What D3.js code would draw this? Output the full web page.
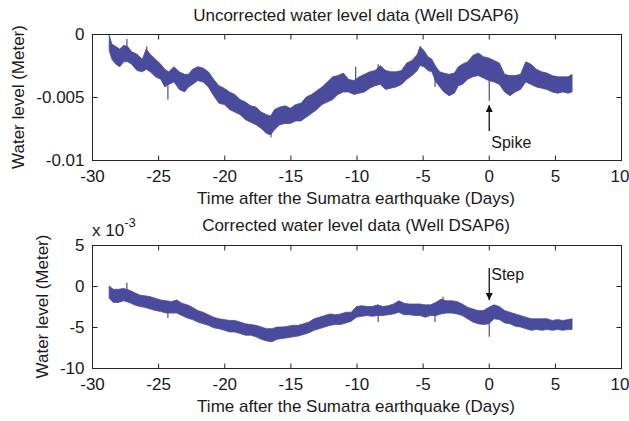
<!DOCTYPE html>
<html>
<head>
<meta charset="utf-8">
<script src="https://cdn.jsdelivr.net/npm/d3@7"></script>
<style>
  body { margin: 0; background: #fff; }
  svg text { font-family: "Liberation Sans", Arial, sans-serif; fill: #1a1a1a; }
</style>
</head>
<body>
<div id="chart"></div>
<script>
// values in units of 1e-3 m
var topDays = [-28.7,-28.5,-28.2,-27.9,-27.6,-27.3,-27.0,-26.6,-26.2,-25.9,-25.6,-25.2,-24.8,-24.5,-24.2,-23.8,-23.4,-23.0,-22.7,-22.4,-22.0,-21.6,-21.2,-20.8,-20.4,-20.0,-19.6,-19.2,-18.8,-18.4,-18.0,-17.6,-17.2,-16.8,-16.5,-16.2,-15.8,-15.4,-15.0,-14.6,-14.2,-13.8,-13.4,-13.0,-12.6,-12.2,-11.8,-11.4,-11.0,-10.6,-10.2,-9.8,-9.4,-9.0,-8.6,-8.2,-7.8,-7.4,-7.0,-6.6,-6.2,-5.8,-5.4,-5.2,-4.9,-4.6,-4.3,-4.0,-3.7,-3.4,-3.0,-2.6,-2.3,-2.0,-1.6,-1.2,-0.8,-0.4,0.0,0.4,0.8,1.2,1.6,2.0,2.4,2.8,3.2,3.6,4.0,4.4,4.8,5.2,5.6,6.0,6.3];
var topHi = [-0.1,-0.8,-1.0,-1.2,-0.9,-1.0,-1.4,-1.6,-2.0,-1.2,-1.6,-2.0,-2.4,-2.8,-3.0,-2.6,-3.0,-3.2,-3.2,-2.8,-2.6,-2.7,-3.0,-3.6,-4.1,-4.3,-4.6,-4.8,-5.2,-5.4,-5.7,-5.8,-6.2,-6.4,-6.5,-6.0,-5.8,-5.7,-5.9,-5.6,-5.5,-5.0,-4.8,-4.5,-4.2,-3.8,-3.4,-3.3,-3.1,-3.6,-3.7,-3.4,-3.2,-3.0,-2.9,-2.5,-2.9,-3.0,-3.0,-2.9,-2.3,-2.1,-1.6,-1.0,-1.3,-1.8,-2.0,-2.6,-3.0,-3.1,-3.2,-3.1,-2.6,-2.4,-2.2,-1.7,-1.5,-1.8,-1.9,-2.1,-2.3,-3.2,-3.3,-3.3,-3.2,-2.2,-2.4,-2.8,-3.0,-3.1,-3.3,-3.4,-3.4,-3.4,-3.2];
var topLo = [-1.3,-2.0,-2.4,-2.6,-2.2,-2.2,-2.4,-2.9,-3.0,-2.8,-3.0,-3.4,-3.6,-4.2,-4.0,-3.8,-4.4,-4.6,-4.2,-4.0,-3.7,-3.8,-4.2,-4.9,-5.5,-5.6,-6.0,-6.2,-6.4,-6.8,-7.0,-7.2,-7.5,-7.9,-8.0,-7.6,-7.2,-7.1,-7.1,-6.9,-6.9,-6.6,-6.3,-6.0,-5.6,-5.4,-5.2,-4.8,-4.6,-4.6,-4.8,-4.7,-4.6,-4.3,-4.1,-4.0,-4.4,-4.3,-4.2,-4.0,-3.6,-3.3,-2.9,-2.5,-2.6,-2.9,-3.0,-3.8,-4.2,-4.6,-4.9,-4.7,-4.1,-4.0,-3.6,-3.4,-3.3,-3.5,-3.7,-3.8,-4.0,-4.6,-4.9,-4.6,-4.4,-3.8,-4.0,-4.2,-4.3,-4.4,-4.6,-4.7,-4.6,-4.7,-4.6];
var topSpikeDays = [-27.4,-25.9,-24.3,-16.5,-10.1,-8.4,-5.2,-4.1,0.0];
var topSpikeVals = [-0.4,-1.0,-5.2,-8.2,-2.6,-2.4,-1.0,-4.2,-5.3];

var botDays = [-28.7,-28.4,-28.0,-27.6,-27.2,-26.8,-26.4,-26.0,-25.6,-25.2,-24.8,-24.4,-24.0,-23.6,-23.2,-22.8,-22.4,-22.0,-21.6,-21.2,-20.8,-20.4,-20.0,-19.6,-19.2,-18.8,-18.4,-18.0,-17.6,-17.2,-16.8,-16.4,-16.0,-15.6,-15.2,-14.8,-14.4,-14.0,-13.6,-13.2,-12.8,-12.4,-12.0,-11.6,-11.2,-10.8,-10.4,-10.0,-9.6,-9.2,-8.8,-8.4,-8.0,-7.6,-7.2,-6.8,-6.4,-6.0,-5.6,-5.2,-4.8,-4.4,-4.0,-3.6,-3.2,-2.8,-2.4,-2.0,-1.6,-1.2,-0.8,-0.4,0.0,0.4,0.8,1.2,1.6,2.0,2.4,2.8,3.2,3.6,4.0,4.4,4.8,5.2,5.6,6.0,6.3];
var botHi = [0.0,-0.4,-0.4,-0.3,-0.5,-0.8,-1.1,-1.2,-1.3,-1.5,-1.7,-1.8,-1.9,-1.7,-2.1,-2.3,-2.6,-3.0,-3.2,-3.5,-3.8,-4.0,-4.1,-4.2,-4.2,-4.4,-4.6,-4.7,-4.8,-5.0,-5.2,-5.2,-5.0,-5.0,-4.9,-4.8,-4.8,-4.6,-4.4,-4.0,-3.8,-3.6,-3.4,-3.5,-3.4,-3.2,-3.2,-2.5,-2.4,-2.5,-2.5,-2.3,-2.5,-2.4,-2.2,-1.8,-2.1,-2.2,-2.2,-2.2,-2.3,-2.3,-2.0,-1.6,-1.8,-1.8,-1.9,-2.2,-2.6,-2.8,-3.0,-3.0,-2.6,-2.3,-2.5,-3.0,-3.2,-3.4,-3.6,-3.8,-4.0,-4.0,-4.0,-4.0,-4.2,-4.1,-4.2,-4.1,-4.0];
var botLo = [-1.5,-2.0,-2.0,-1.8,-2.0,-2.3,-2.5,-2.6,-2.8,-3.0,-3.1,-3.3,-3.3,-3.3,-3.6,-3.9,-4.1,-4.4,-4.6,-4.8,-5.1,-5.2,-5.4,-5.6,-5.6,-5.8,-6.0,-6.0,-6.2,-6.5,-6.7,-6.8,-6.5,-6.4,-6.3,-6.2,-6.1,-5.9,-5.7,-5.4,-5.2,-5.0,-4.8,-4.7,-4.7,-4.5,-4.3,-3.8,-3.7,-3.6,-3.7,-3.6,-3.6,-3.5,-3.4,-3.2,-3.5,-3.5,-3.6,-3.6,-3.8,-3.6,-3.6,-3.4,-3.3,-3.3,-3.4,-3.6,-4.0,-4.4,-4.6,-4.7,-4.6,-4.0,-4.1,-4.5,-4.6,-4.9,-5.0,-5.2,-5.4,-5.3,-5.4,-5.3,-5.4,-5.3,-5.4,-5.3,-5.3];
var botSpikeDays = [-27.4,-24.3,-8.4,-4.1,-3.5,0.0];
var botSpikeVals = [0.4,-3.9,-4.4,-4.4,-1.3,-6.2];

var xTicks = [-30,-25,-20,-15,-10,-5,0,5,10];
var topYTicks = [0,-5,-10];
var botYTicks = [5,0,-5,-10];

var width = 629, height = 421;
var lineColor = "#4b4b9d";
var axisColor = "#222";

// matlab style labels use a plain hyphen
function hyph(f) { return function(d) { return f(d).replace("\u2212", "-"); }; }

var svg = d3.select("#chart").append("svg")
    .attr("width", width)
    .attr("height", height);

svg.append("defs").append("marker")
    .attr("id", "head")
    .attr("viewBox", "0 0 10 10")
    .attr("refX", 10).attr("refY", 5)
    .attr("markerWidth", 7).attr("markerHeight", 7)
    .attr("markerUnits", "userSpaceOnUse")
    .attr("orient", "auto")
  .append("path")
    .attr("d", "M0,0L10,5L0,10z")
    .attr("fill", "#111");

function panel(opt) {
  var x = d3.scaleLinear().domain([-30, 10]).range([92, 621]);
  var y = d3.scaleLinear().domain(opt.yDomain).range([opt.bottom, opt.top]);
  var g = svg.append("g");

  // data band
  var pts = opt.days.map(function(d, i) { return {d: d, hi: opt.hi[i], lo: opt.lo[i]}; });
  var area = d3.area()
      .x(function(p) { return x(p.d); })
      .y0(function(p) { return y(p.lo); })
      .y1(function(p) { return y(p.hi); });
  g.append("path")
      .attr("d", area(pts))
      .attr("fill", lineColor)
      .attr("stroke", lineColor)
      .attr("stroke-width", 0.8);

  // spikes
  var bis = d3.bisector(function(p) { return p.d; }).center;
  opt.spikeDays.forEach(function(sd, i) {
    var p = pts[bis(pts, sd)];
    g.append("line")
        .attr("x1", x(sd) + 0.5).attr("x2", x(sd) + 0.5)
        .attr("y1", y((p.hi + p.lo) / 2))
        .attr("y2", y(opt.spikeVals[i]))
        .attr("stroke", lineColor)
        .attr("stroke-width", 1.2);
  });

  // box
  g.append("rect")
      .attr("x", 92.5).attr("y", opt.top + 0.5)
      .attr("width", 529).attr("height", opt.bottom - opt.top)
      .attr("fill", "none").attr("stroke", axisColor).attr("stroke-width", 1);

  var tl = 5;
  // axes with inward ticks
  g.append("g").attr("transform", "translate(0," + (opt.bottom + 0.5) + ")")
      .call(d3.axisBottom(x).tickValues(xTicks).tickSizeInner(-tl).tickSizeOuter(0).tickPadding(9)
        .tickFormat(hyph(d3.format("d"))))
      .call(function(a) { a.select(".domain").remove(); })
      .call(function(a) { a.selectAll(".tick text").filter(function(d) { return d === 10; }).attr("dx", -1.5); });
  g.append("g").attr("transform", "translate(0," + (opt.top + 0.5) + ")")
      .call(d3.axisTop(x).tickValues(xTicks).tickSizeInner(-tl).tickSizeOuter(0).tickFormat(""))
      .call(function(a) { a.select(".domain").remove(); });
  g.append("g").attr("transform", "translate(92.5,0)")
      .call(d3.axisLeft(y).tickValues(opt.yTicks).tickSizeInner(-tl).tickSizeOuter(0).tickPadding(8)
        .tickFormat(opt.fmt))
      .call(function(a) { a.select(".domain").remove(); });
  g.append("g").attr("transform", "translate(621.5,0)")
      .call(d3.axisRight(y).tickValues(opt.yTicks).tickSizeInner(-tl).tickSizeOuter(0).tickFormat(""))
      .call(function(a) { a.select(".domain").remove(); });

  g.selectAll(".tick line").attr("stroke", axisColor);
  g.selectAll(".tick text").style("font-size", "17px").attr("fill", "#1a1a1a")
      .style("font-family", "'Liberation Sans', Arial, sans-serif");

  g.append("text")
      .attr("x", 356).attr("y", opt.titleY)
      .attr("text-anchor", "middle")
      .style("font-size", "17px")
      .text(opt.title);
  g.append("text")
      .attr("x", 356).attr("y", opt.bottom + 44)
      .attr("text-anchor", "middle")
      .style("font-size", "17px")
      .text("Time after the Sumatra earthquake (Days)");
  g.append("text")
      .attr("transform", "translate(" + opt.ylabX + "," + ((opt.top + opt.bottom) / 2) + ") rotate(-90)")
      .attr("text-anchor", "middle")
      .style("font-size", "17px")
      .text("Water level (Meter)");

  // annotation arrow
  var ax = x(0) + 0.5;
  g.append("line")
      .attr("x1", ax).attr("x2", ax)
      .attr("y1", opt.arrowFrom).attr("y2", opt.arrowTo)
      .attr("stroke", "#111").attr("stroke-width", 1.3)
      .attr("marker-end", "url(#head)");
  g.append("text")
      .attr("x", ax + 2).attr("y", opt.noteY)
      .style("font-size", "16px")
      .text(opt.note);
}

panel({
  top: 34, bottom: 160, yDomain: [-10, 0], yTicks: topYTicks,
  fmt: function(d) { return d === 0 ? "0" : String(d / 1000); },
  days: topDays, hi: topHi, lo: topLo,
  spikeDays: topSpikeDays, spikeVals: topSpikeVals,
  title: "Uncorrected water level data (Well DSAP6)", titleY: 21, ylabX: 24,
  arrowFrom: 131, arrowTo: 105, note: "Spike", noteY: 148
});

panel({
  top: 245, bottom: 368, yDomain: [-10, 5], yTicks: botYTicks,
  fmt: hyph(d3.format("d")),
  days: botDays, hi: botHi, lo: botLo,
  spikeDays: botSpikeDays, spikeVals: botSpikeVals,
  title: "Corrected water level data (Well DSAP6)", titleY: 231, ylabX: 48,
  arrowFrom: 268, arrowTo: 300, note: "Step", noteY: 280
});

// exponent label
var ex = svg.append("text").attr("x", 92).attr("y", 236).style("font-size", "17px");
ex.append("tspan").text("x 10");
ex.append("tspan").attr("dy", -9).style("font-size", "13px").text("-3");
</script>
</body>
</html>
